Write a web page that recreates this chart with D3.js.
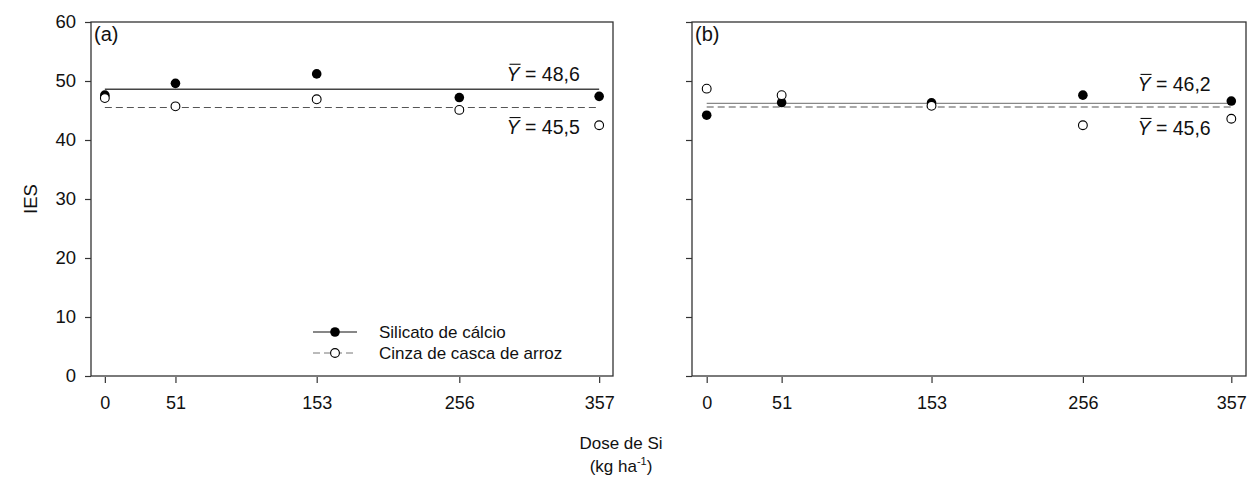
<!DOCTYPE html>
<html><head><meta charset="utf-8">
<script src="https://cdn.jsdelivr.net/npm/d3@7"></script>
<style>
body{margin:0;background:#fff;}
text{font-family:"Liberation Sans",Arial,sans-serif;fill:#111;}
</style></head>
<body><svg id="c" width="1251" height="480"></svg>
<script>
const doses = [0, 51, 153, 256, 357];
const yTicks = [0, 10, 20, 30, 40, 50, 60];
const silicatoA = [47.6, 49.6, 51.2, 47.2, 47.4];
const cinzaA = [47.1, 45.7, 46.9, 45.1, 42.5];
const silicatoB = [44.2, 46.35, 46.3, 47.6, 46.6];
const cinzaB = [48.7, 47.6, 45.8, 42.5, 43.6];
const meanA = [48.6, 45.5];
const meanB = [46.2, 45.6];
const meanLabelsA = ["48,6", "45,5"];
const meanLabelsB = ["46,2", "45,6"];
const panelLabels = ["(a)", "(b)"];
const legendLabels = ["Silicato de cálcio", "Cinza de casca de arroz"];

const svg = d3.select("#c");
const yTop = 22, yBot = 376;
const y = d3.scaleLinear().domain([0, 60]).range([yBot, yTop]);

const panels = [
  {x0: 91, x1: 613, sil: silicatoA, cin: cinzaA, means: meanA, ml: meanLabelsA, lab: panelLabels[0], yLabels: true, solidColor: "#444",
   lblOff: [-8.5, 26.5]},
  {x0: 692, x1: 1246, sil: silicatoB, cin: cinzaB, means: meanB, ml: meanLabelsB, lab: panelLabels[1], yLabels: false, solidColor: "#888",
   lblOff: [-12.5, 28]}
];

panels.forEach((p, pi) => {
  const x = d3.scaleLinear().domain([-10, 367]).range([p.x0, p.x1]);
  const g = svg.append("g");
  g.append("rect").attr("x", p.x0).attr("y", yTop).attr("width", p.x1 - p.x0).attr("height", yBot - yTop)
    .attr("fill", "none").attr("stroke", "#333").attr("stroke-width", 1.3);
  const ya = d3.axisLeft(y).tickValues(yTicks).tickSize(6).tickPadding(9).tickFormat(p.yLabels ? d3.format("d") : "");
  const yg = g.append("g").attr("transform", `translate(${p.x0},0)`).call(ya);
  yg.select(".domain").remove();
  yg.selectAll("line").attr("stroke", "#333").attr("stroke-width", 1.2);
  yg.selectAll("text").style("font-size", "18.5px").attr("fill", "#111").style("font-family", "Liberation Sans, Arial, sans-serif");
  const xa = d3.axisBottom(x).tickValues(doses).tickSize(6).tickPadding(13).tickFormat(d3.format("d"));
  const xg = g.append("g").attr("transform", `translate(0,${yBot + 1})`).call(xa);
  xg.select(".domain").remove();
  xg.selectAll("line").attr("stroke", "#333").attr("stroke-width", 1.2);
  xg.selectAll("text").style("font-size", "18px").attr("fill", "#111").style("font-family", "Liberation Sans, Arial, sans-serif");
  g.append("text").attr("x", p.x0 + 3).attr("y", yTop + 19).style("font-size", "20px").text(p.lab);
  g.append("line").attr("x1", x(doses[0])).attr("x2", x(doses[doses.length - 1]))
    .attr("y1", y(p.means[0])).attr("y2", y(p.means[0])).attr("stroke", p.solidColor).attr("stroke-width", 1.3);
  g.append("line").attr("x1", x(doses[0])).attr("x2", x(doses[doses.length - 1]))
    .attr("y1", y(p.means[1])).attr("y2", y(p.means[1])).attr("stroke", "#555").attr("stroke-width", 1.1)
    .attr("stroke-dasharray", "7,4");
  p.means.forEach((m, i) => {
    const t = g.append("text").attr("x", x(343)).attr("y", y(m) + p.lblOff[i])
      .attr("text-anchor", "end").style("font-size", "19.5px");
    t.append("tspan").style("font-style", "italic").text("Y");
    t.append("tspan").text(" = " + p.ml[i]);
    const node = t.node();
    const s = node.getStartPositionOfChar(0), e = node.getEndPositionOfChar(0);
    const bb = node.getBBox();
    g.append("line").attr("x1", s.x + 3).attr("x2", e.x + 1)
      .attr("y1", bb.y + 1.5).attr("y2", bb.y + 1.5).attr("stroke", "#111").attr("stroke-width", 1.1);
  });
  g.selectAll(".sil").data(doses.map((d, i) => [d, p.sil[i]])).join("circle")
    .attr("cx", d => x(d[0])).attr("cy", d => y(d[1])).attr("r", 4.8).attr("fill", "#000");
  g.selectAll(".cin").data(doses.map((d, i) => [d, p.cin[i]])).join("circle")
    .attr("cx", d => x(d[0])).attr("cy", d => y(d[1])).attr("r", 4.4).attr("fill", "#fff")
    .attr("stroke", "#000").attr("stroke-width", 1.1);
});

const lg = svg.append("g");
const rows = [332, 353];
lg.append("line").attr("x1", 313).attr("x2", 357).attr("y1", rows[0]).attr("y2", rows[0]).attr("stroke", "#111").attr("stroke-width", 1.2);
lg.append("circle").attr("cx", 335).attr("cy", rows[0]).attr("r", 4.8).attr("fill", "#000");
lg.append("line").attr("x1", 313).attr("x2", 357).attr("y1", rows[1]).attr("y2", rows[1]).attr("stroke", "#777").attr("stroke-width", 1).attr("stroke-dasharray", "7,4");
lg.append("circle").attr("cx", 335).attr("cy", rows[1]).attr("r", 4.4).attr("fill", "#fff").attr("stroke", "#000").attr("stroke-width", 1.1);
legendLabels.forEach((l, i) => {
  lg.append("text").attr("x", 379).attr("y", rows[i]).attr("dy", "0.36em").style("font-size", "17px").text(l);
});

svg.append("text").attr("transform", "translate(37,199) rotate(-90)").attr("text-anchor", "middle")
  .style("font-size", "18.5px").text("IES");
svg.append("text").attr("x", 621).attr("y", 449).attr("text-anchor", "middle").style("font-size", "17px").text("Dose de Si");
const t2 = svg.append("text").attr("x", 621).attr("y", 472).attr("text-anchor", "middle").style("font-size", "17px");
t2.append("tspan").text("(kg ha");
t2.append("tspan").attr("dy", -7).style("font-size", "11px").text("-1");
t2.append("tspan").attr("dy", 7).text(")");
</script></body></html>
